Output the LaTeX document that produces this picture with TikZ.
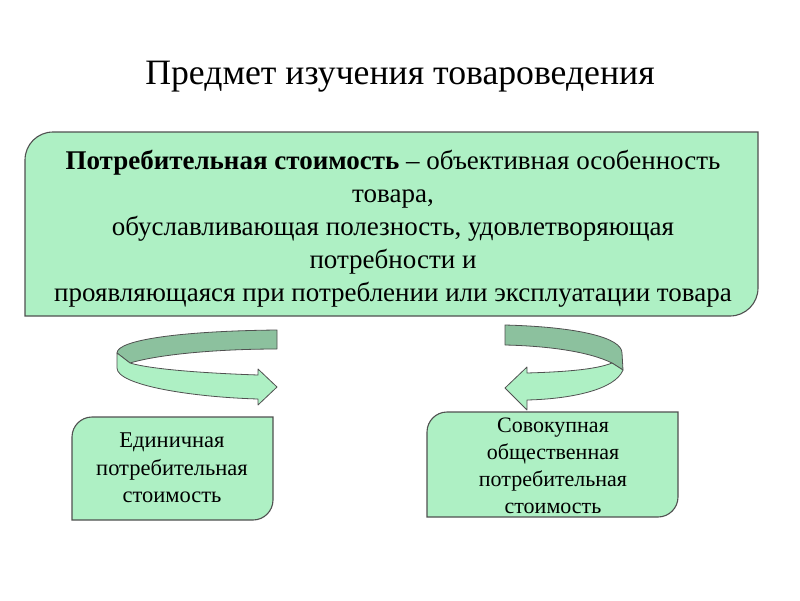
\documentclass[tikz,border=0pt]{standalone}
\usepackage{fontspec}
\setmainfont{Liberation Serif}
\definecolor{boxfill}{HTML}{AEF0C4}
\definecolor{bandback}{HTML}{8CC19E}
\definecolor{edgecol}{HTML}{505050}
\begin{document}
\begin{tikzpicture}[x=1pt,y=-1pt,
  shapebox/.style={fill=boxfill,draw=edgecol,line width=1.1pt},
  frontband/.style={fill=boxfill,draw=edgecol,line width=0.8pt,line join=round},
  backband/.style={fill=bandback,draw=edgecol,line width=0.8pt,line join=round},
  bigtext/.style={align=center,font=\fontsize{27}{33}\selectfont,inner sep=0pt},
  smalltext/.style={align=center,font=\fontsize{22.5}{27.5}\selectfont,inner sep=0pt},
  titletext/.style={font=\fontsize{35.7}{40}\selectfont,inner sep=0pt}]
\useasboundingbox (0,0) rectangle (800,600);
\fill[white] (0,0) rectangle (800,600);

% title
\node[titletext] (title) at (400,77) {Предмет изучения товароведения};

% main box
\draw[shapebox] (25,316) -- (25,160) .. controls (25,144.5) and (37.5,132) .. (53,132)
  -- (758,132) -- (758,288) .. controls (758,303.5) and (745.5,316) .. (730,316) -- cycle;
\node[bigtext] (main) at (393,229) {\textbf{Потребительная стоимость} – объективная особенность\\
товара,\\
обуславливающая полезность, удовлетворяющая\\
потребности и\\
проявляющаяся при потреблении или эксплуатации товара};

% left box
\draw[shapebox] (72,520) -- (72,437) .. controls (72,426) and (81,417) .. (92,417)
  -- (273,417) -- (273,500) .. controls (273,511) and (264,520) .. (253,520) -- cycle;
\node[smalltext] (single) at (172,468) {Единичная\\потребительная\\стоимость};

% right box
\draw[shapebox] (427,517) -- (427,432) .. controls (427,421) and (436,412) .. (447,412)
  -- (678,412) -- (678,497) .. controls (678,508) and (669,517) .. (658,517) -- cycle;
\node[smalltext,font=\fontsize{22}{27}\selectfont] (total) at (553,466) {Совокупная\\общественная\\потребительная\\стоимость};

% left curved arrow
\draw[backband] (277,330) .. controls (180,331) and (117,340) .. (117,353)
  -- (130,363) .. controls (160,354) and (220,349) .. (277,349) -- cycle;
\draw[frontband] (117,353) -- (117,368) .. controls (117,385) and (190,397) .. (258,399)
  -- (258,405) -- (277,387) -- (258,369) -- (258,375)
  .. controls (200,373) and (150,369) .. (130,363) -- cycle;

% right curved arrow
\draw[backband] (505,325) .. controls (580,327) and (622,338) .. (622,353)
  -- (623,370) -- (612,363) .. controls (590,352) and (550,346) .. (505,345) -- cycle;
\draw[frontband] (623,370) .. controls (615,390) and (570,399) .. (527,400)
  -- (527,410) -- (505,388) -- (527,367) -- (527,373)
  .. controls (560,372) and (595,370) .. (612,363) -- cycle;
\end{tikzpicture}
\end{document}
